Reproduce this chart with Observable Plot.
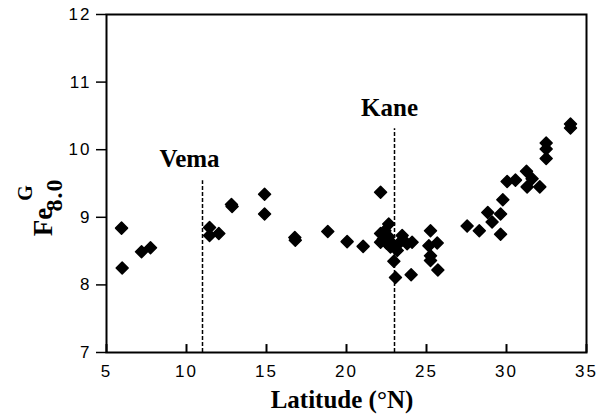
<!DOCTYPE html>
<html>
<head>
<meta charset="utf-8">
<script src="https://cdn.jsdelivr.net/npm/d3@7"></script>
<script src="https://cdn.jsdelivr.net/npm/@observablehq/plot@0.6"></script>
<style>
  html, body { margin: 0; padding: 0; background: #fff; overflow: hidden; }
  #chart svg { display: block; }
</style>
</head>
<body>
<div id="chart"></div>
<script>
const latitude = [
  5.94, 5.98, 7.19, 7.75, 11.44, 11.44, 12.02, 12.81, 12.85, 14.88, 14.88,
  16.77, 16.80, 18.83, 20.04, 21.04, 22.13, 22.64, 22.13, 22.13, 22.64, 22.75,
  23.17, 23.48, 23.79, 24.10, 22.96, 23.06, 24.04, 22.40, 22.50, 22.90, 23.30, 22.30,
  25.25, 25.67, 25.15, 25.25, 25.25, 25.71, 27.54, 28.30, 28.83, 29.10, 29.63,
  29.63, 29.77, 30.04, 30.56, 31.25, 31.29, 31.60, 32.08, 32.48, 32.48, 32.48,
  34.00, 34.00
];
const fe80 = [
  8.84, 8.25, 8.49, 8.55, 8.85, 8.73, 8.76, 9.19, 9.16, 9.34, 9.05,
  8.70, 8.66, 8.79, 8.64, 8.57, 9.37, 8.90, 8.76, 8.63, 8.71, 8.56,
  8.51, 8.73, 8.61, 8.63, 8.35, 8.11, 8.15, 8.80, 8.62, 8.60, 8.62, 8.68,
  8.80, 8.62, 8.58, 8.43, 8.36, 8.22, 8.87, 8.80, 9.07, 8.93, 9.05,
  8.75, 9.26, 9.53, 9.55, 9.68, 9.45, 9.57, 9.45, 10.10, 10.01, 9.87,
  10.38, 10.32
];
const faultNames = ["Vema", "Kane"];
const faultLat = [11, 23];
const faultTop = [9.54, 10.31];
const xTicks = [5, 10, 15, 20, 25, 30, 35];
const yTicks = [7, 8, 9, 10, 11, 12];
const xLabel = "Latitude (°N)";

const points = latitude.map((x, i) => ({x, y: fe80[i]}));
const faults = faultNames.map((name, i) => ({name, x: faultLat[i], top: faultTop[i]}));
const tickMarks = xTicks.map(x => ({x, y1: 7, y2: 7.125}));
const serif = "'Liberation Serif', 'Times New Roman', serif";

const chart = Plot.plot({
  width: 600,
  height: 416,
  marginLeft: 106,
  marginRight: 14,
  marginTop: 14,
  marginBottom: 64,
  style: {fontFamily: "'Liberation Sans', Arial, sans-serif", color: "#000", background: "#fff"},
  x: {domain: [5, 35], label: null},
  y: {domain: [7, 12], label: null},
  marks: [
    Plot.ruleX(faults, {x: "x", y1: 7, y2: "top", stroke: "#000", strokeWidth: 1.5, strokeDasharray: "4,2"}),
    Plot.text(faults, {filter: d => d.name === "Vema", x: "x", y: "top", text: "name", dx: -13, dy: -22, fontFamily: serif, fontWeight: "bold", fontSize: 25, fill: "#000"}),
    Plot.text(faults, {filter: d => d.name === "Kane", x: "x", y: "top", text: "name", dx: -5, dy: -21, fontFamily: serif, fontWeight: "bold", fontSize: 25, fill: "#000"}),
    Plot.dot(points, {x: "x", y: "y", symbol: "diamond2", r: 5.4, fill: "#000", stroke: "#000", strokeWidth: 1.5, strokeLinejoin: "round"}),
    Plot.axisX({ticks: xTicks, tickSize: 0, tickPadding: 12, fontSize: 17, tickFormat: d => d, fill: "#000"}),
    Plot.axisY({ticks: yTicks, tickSize: 10, tickPadding: 5, fontSize: 17, tickFormat: d => d, stroke: "#000", strokeWidth: 1.5, fill: "#000"}),
    Plot.frame({stroke: "#000", strokeWidth: 2}),
    // inward x tick marks, drawn on top
    Plot.link(tickMarks, {x1: "x", x2: "x", y1: "y1", y2: "y2", stroke: "#000", strokeWidth: 2})
  ]
});

document.getElementById("chart").appendChild(chart);

const svg = d3.select(chart);
svg.selectAll("[aria-label='x-axis tick label'] text, [aria-label='y-axis tick label'] text").style("letter-spacing", "2px");

// x-axis title
svg.append("text")
  .attr("x", 342)
  .attr("y", 408)
  .attr("text-anchor", "middle")
  .style("font-family", serif)
  .style("font-weight", "bold")
  .style("font-size", "25px")
  .text(xLabel);

// y-axis title: Fe with stacked subscript 8.0 and superscript G
const yt = svg.append("g").attr("transform", "translate(52,222) rotate(-90)")
  .style("font-family", serif)
  .style("font-weight", "bold");
yt.append("text").attr("x", 0).attr("y", 0).style("font-size", "27px").text("Fe");
yt.append("text").attr("x", 27).attr("y", 10).style("font-size", "24px").style("letter-spacing", "1px").text("8.0");
yt.append("text").attr("x", 29).attr("y", -20).style("font-size", "20px").text("G");
</script>
</body>
</html>
